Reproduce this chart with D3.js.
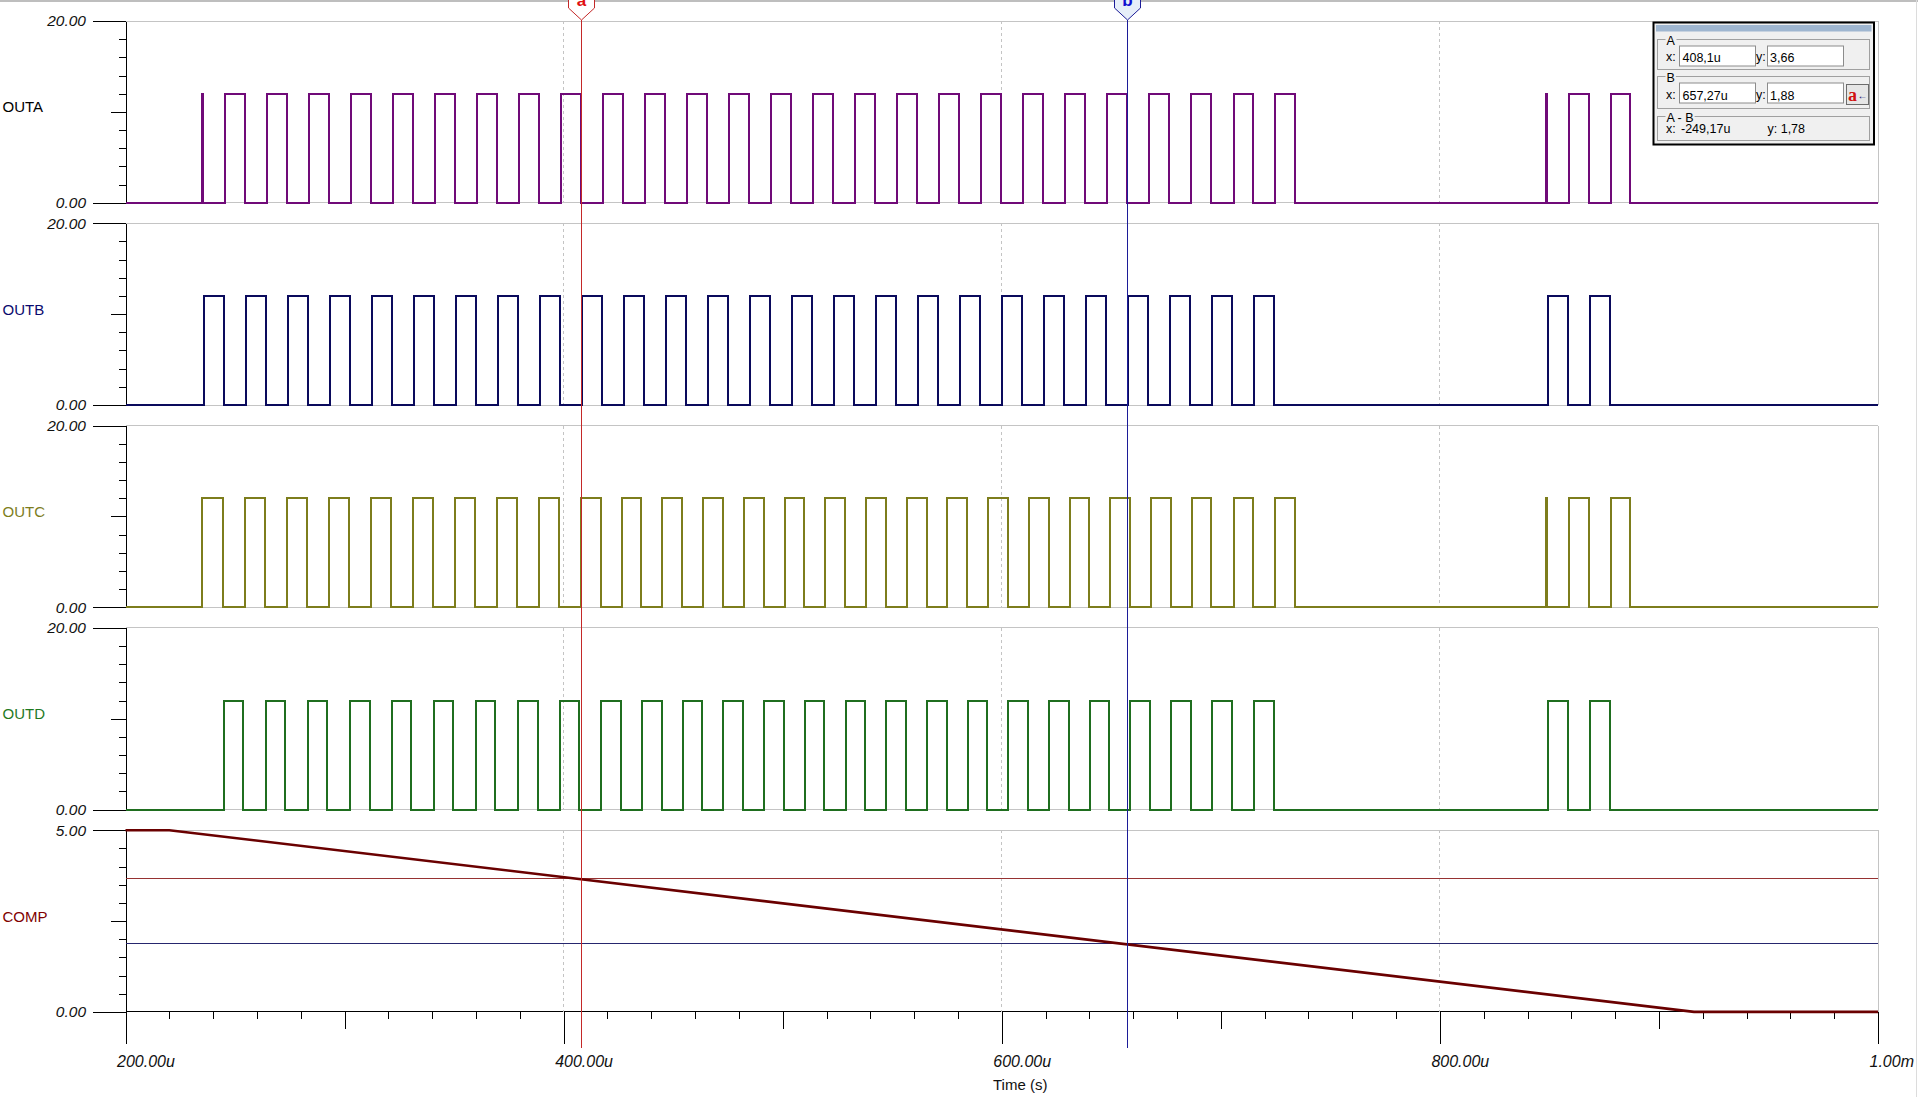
<!DOCTYPE html>
<html>
<head>
<meta charset="utf-8">
<script src="https://cdn.jsdelivr.net/npm/d3@7"></script>
<style>
  body { margin: 0; background: #fff; }
  svg { display: block; font-family: "Liberation Sans", Arial, sans-serif; }
  .tick text { font-style: italic; font-size: 15.5px; fill: #111; }
  .panel-label { font-size: 15px; }
  .box text { font-size: 12.5px; }
</style>
</head>
<body>
<svg width="1918" height="1097"></svg>
<script>
// pulse edges, [rise, fall] in microseconds
var outaPulses = [
  [235.0, 235.5],
  [245.6, 254.6], [264.7, 273.7], [283.9, 292.9], [303.1, 312.1], [322.3, 331.3],
  [341.4, 350.4], [360.6, 369.6], [379.8, 388.8], [399.0, 408.0], [418.1, 427.1],
  [437.3, 446.3], [456.5, 465.5], [475.7, 484.7], [494.8, 503.8], [514.0, 523.0],
  [533.2, 542.2], [552.4, 561.4], [571.5, 580.5], [590.7, 599.7], [609.9, 618.9],
  [629.1, 638.1], [648.2, 657.2], [667.4, 676.4], [686.6, 695.6], [705.8, 714.8],
  [724.9, 733.9],
  [848.6, 849.1], [859.0, 868.1], [878.2, 886.8]
];
var outbPulses = [
  [235.8, 244.8], [255.0, 264.0], [274.2, 283.2], [293.4, 302.4], [312.5, 321.5],
  [331.7, 340.7], [350.9, 359.9], [370.1, 379.1], [389.2, 398.2], [408.4, 417.4],
  [427.6, 436.6], [446.8, 455.8], [465.9, 474.9], [485.1, 494.1], [504.3, 513.3],
  [523.5, 532.5], [542.6, 551.6], [561.8, 570.8], [581.0, 590.0], [600.2, 609.2],
  [619.3, 628.3], [638.5, 647.5], [657.7, 666.7], [676.9, 685.9], [696.0, 705.0],
  [715.2, 724.2],
  [849.4, 858.6], [868.4, 877.7]
];
var outcPulses = [
  [235.0, 244.4], [254.6, 263.6], [273.7, 282.7], [292.9, 301.9], [312.1, 321.1],
  [331.3, 340.3], [350.4, 359.4], [369.6, 378.6], [388.8, 397.8], [408.0, 417.0],
  [426.5, 435.5], [445.1, 454.1], [463.7, 472.7], [482.3, 491.3], [500.9, 509.9],
  [519.5, 528.5], [538.1, 547.1], [556.7, 565.7], [575.2, 584.2], [593.8, 602.8],
  [612.4, 621.4], [631.0, 640.0], [649.5, 658.5], [668.1, 677.1], [686.7, 695.7],
  [705.8, 714.8], [724.9, 733.9],
  [848.5, 849.0], [859.0, 868.1], [878.2, 886.8]
];
var outdPulses = [
  [244.8, 253.8], [264.0, 273.0], [283.2, 292.2], [302.4, 311.4], [321.5, 330.5],
  [340.7, 349.7], [359.9, 368.9], [379.1, 388.1], [398.2, 407.2], [417.1, 426.1],
  [435.7, 444.7], [454.3, 463.3], [472.8, 481.8], [491.5, 500.5], [510.0, 519.0],
  [528.7, 537.7], [547.2, 556.2], [565.8, 574.8], [584.4, 593.4], [603.0, 612.0],
  [621.5, 630.5], [640.1, 649.1], [658.7, 667.7], [677.3, 686.3], [696.0, 705.0],
  [715.2, 724.2],
  [849.4, 858.6], [868.4, 877.7]
];
var pulseHigh = 12;

var compTime = [200, 220, 916, 1000];
var compVolt = [5.0, 5.0, 0.0, 0.0];

var panelNames = ["OUTA", "OUTB", "OUTC", "OUTD", "COMP"];
var panelMax = [20, 20, 20, 20, 5];
var traceColors = ["#700a78", "#0a0a5c", "#7d7d1c", "#1f6e1f", "#6a0000"];
var labelColors = ["#000000", "#0a0a6e", "#7d7d1c", "#1f7a1f", "#800000"];

var timeTicks = [200, 400, 600, 800, 1000];
var timeLabels = ["200.00u", "400.00u", "600.00u", "800.00u", "1.00m"];

var cursorNames = ["a", "b"];
var cursorTime = [408.1, 657.27];
var cursorLevel = [3.66, 1.88];
var cursorColors = ["#c42828", "#1c1c98"];
var levelColors = ["#963232", "#26266e"];

var readoutGroups = ["A", "B", "A - B"];
var readoutX = ["408,1u", "657,27u", "-249,17u"];
var readoutY = ["3,66", "1,88", "1,78"];

function pulsePoints(pulses) {
    var pts = [[200, 0]];
    pulses.forEach(function(p) {
        pts.push([p[0], 0], [p[0], pulseHigh], [p[1], pulseHigh], [p[1], 0]);
    });
    pts.push([1000, 0]);
    return pts;
}

function main() {
    var svg = d3.select("svg");
    var x = d3.scaleLinear().domain([200, 1000]).range([125.5, 1878]);
    var left = x.range()[0], right = x.range()[1];
    var top0 = 21, pitch = 202.3, ph = 181.7;
    var series = [outaPulses, outbPulses, outcPulses, outdPulses];

    // window frame
    svg.append("line").attr("x1", 0).attr("x2", 1918).attr("y1", 1).attr("y2", 1)
       .attr("stroke", "#a8a8a8").attr("stroke-width", 1.5);
    svg.append("line").attr("x1", 1916.5).attr("x2", 1916.5).attr("y1", 0).attr("y2", 1097)
       .attr("stroke", "#dcdcdc");

    panelNames.forEach(function(name, i) {
        var top = top0 + i * pitch, bottom = top + ph;
        var y = d3.scaleLinear().domain([0, panelMax[i]]).range([bottom, top]);
        var g = svg.append("g").attr("class", "panel");

        // grid
        g.append("line").attr("x1", left).attr("x2", right).attr("y1", top).attr("y2", top)
         .attr("stroke", "#c4c4c4").attr("shape-rendering", "crispEdges");
        g.append("line").attr("x1", left).attr("x2", right).attr("y1", bottom).attr("y2", bottom)
         .attr("stroke", i < 4 ? "#c4c4c4" : "#000").attr("shape-rendering", "crispEdges");
        g.append("line").attr("x1", right).attr("x2", right).attr("y1", top).attr("y2", bottom)
         .attr("stroke", "#c4c4c4").attr("shape-rendering", "crispEdges");
        g.selectAll(".vgrid").data([400, 600, 800]).enter().append("line")
         .attr("class", "vgrid")
         .attr("x1", function(d) { return x(d); }).attr("x2", function(d) { return x(d); })
         .attr("y1", top).attr("y2", bottom)
         .attr("stroke", "#c4c4c4").attr("stroke-dasharray", "3,3")
         .attr("shape-rendering", "crispEdges");

        // y axis: minor, mid and major ticks
        var step = panelMax[i] / 10;
        var all = d3.range(0, 11).map(function(k) { return k * step; });
        var minor = all.filter(function(d, k) { return k % 5 != 0; });
        g.append("g").attr("transform", "translate(" + left + ",0)")
         .call(d3.axisLeft(y).tickValues(minor).tickSize(7).tickFormat(""))
         .call(function(a) { a.select(".domain").remove(); });
        g.append("g").attr("transform", "translate(" + left + ",0)")
         .call(d3.axisLeft(y).tickValues([all[5]]).tickSize(15).tickFormat(""))
         .call(function(a) { a.select(".domain").remove(); });
        g.append("g").attr("transform", "translate(" + left + ",0)")
         .call(d3.axisLeft(y).tickValues([0, panelMax[i]]).tickSize(33).tickSizeOuter(0)
               .tickPadding(6.5).tickFormat(d3.format(".2f")));
        g.selectAll(".tick line, .domain").attr("shape-rendering", "crispEdges");

        g.append("text").attr("class", "panel-label")
         .attr("x", 2.5).attr("y", (top + bottom) / 2 + 0.5)
         .attr("fill", labelColors[i])
         .text(name);

        if (i < 4) {
            var line = d3.line().x(function(d) { return x(d[0]); }).y(function(d) { return y(d[1]); });
            g.append("path").datum(pulsePoints(series[i]))
             .attr("d", line).attr("fill", "none")
             .attr("stroke", traceColors[i]).attr("stroke-width", 2)
             .attr("shape-rendering", "crispEdges");
        } else {
            var minorX = d3.range(200, 1001, 20).filter(function(d) { return d % 100 != 0; });
            var midX = [300, 500, 700, 900];
            var ax = g.append("g").attr("transform", "translate(0," + bottom + ")");
            ax.append("g").call(d3.axisBottom(x).tickValues(minorX).tickSize(7).tickFormat(""))
              .call(function(a) { a.select(".domain").remove(); });
            ax.append("g").call(d3.axisBottom(x).tickValues(midX).tickSize(17).tickFormat(""))
              .call(function(a) { a.select(".domain").remove(); });
            ax.append("g").call(d3.axisBottom(x).tickValues(timeTicks).tickSize(32).tickSizeOuter(0)
                     .tickPadding(12).tickFormat(function(d, k) { return timeLabels[k]; }))
              .call(function(a) {
                  a.select(".domain").remove();
                  a.selectAll("text").attr("text-anchor", "start").attr("x", -9).style("font-size", "16px");
              });
            ax.selectAll(".tick line").attr("shape-rendering", "crispEdges");

            svg.append("text").attr("x", 993).attr("y", 1089.5)
               .attr("font-size", 15).attr("fill", "#111").text("Time (s)");

            // cursor levels
            g.selectAll(".level").data(cursorLevel).enter().append("line")
             .attr("class", "level")
             .attr("x1", left).attr("x2", right)
             .attr("y1", function(d) { return y(d); }).attr("y2", function(d) { return y(d); })
             .attr("stroke", function(d, k) { return levelColors[k]; })
             .attr("shape-rendering", "crispEdges");

            var cline = d3.line().x(function(d) { return x(d); }).y(function(d, k) { return y(compVolt[k]); });
            g.append("path").datum(compTime)
             .attr("d", cline).attr("fill", "none")
             .attr("stroke", traceColors[i]).attr("stroke-width", 2.6);
        }
    });

    // vertical cursors with markers
    cursorTime.forEach(function(t, k) {
        var cx = Math.round(x(t)) + 0.5;
        svg.append("line").attr("x1", cx).attr("x2", cx).attr("y1", 20).attr("y2", 1048)
           .attr("stroke", cursorColors[k]).attr("stroke-width", 1);
        svg.append("path")
           .attr("d", "M" + (cx - 13) + ",-10 L" + (cx - 13) + ",8 L" + cx + ",20 L" + (cx + 13) + ",8 L" + (cx + 13) + ",-10")
           .attr("fill", k == 0 ? "#fff" : "#e6eef9").attr("stroke", cursorColors[k]);
        svg.append("text").attr("x", cx).attr("y", 6).attr("text-anchor", "middle")
           .attr("font-size", 17).attr("font-weight", "bold")
           .attr("fill", k == 0 ? "#e01010" : "#1010d0").text(cursorNames[k]);
    });

    // cursor readout window
    var box = svg.append("g").attr("class", "box");
    box.append("rect").attr("x", 1653.5).attr("y", 22.5).attr("width", 220.5).attr("height", 122)
       .attr("fill", "#f0f0f0").attr("stroke", "#000").attr("stroke-width", 2);
    box.append("rect").attr("x", 1656).attr("y", 25).attr("width", 215.5).attr("height", 6.5)
       .attr("fill", "#9fb6d0");

    var groupTop = [39.5, 76.5, 116.5], groupH = [30, 32, 24];
    var rowBase = [60.5, 98.5, 133];
    readoutGroups.forEach(function(name, k) {
        box.append("rect").attr("x", 1657.5).attr("y", groupTop[k]).attr("width", 212).attr("height", groupH[k])
           .attr("fill", "none").attr("stroke", "#a0a0a0");
        var lbl = box.append("text").attr("x", 1666.5).attr("y", groupTop[k] + 5).text(name);
        var bb = lbl.node().getBBox();
        box.insert("rect", function() { return lbl.node(); })
           .attr("x", bb.x - 1).attr("y", groupTop[k] - 1).attr("width", bb.width + 2).attr("height", 3)
           .attr("fill", "#f0f0f0");
        box.append("text").attr("x", 1666).attr("y", rowBase[k]).text("x:");
        if (k < 2) {
            var by = groupTop[k] + 6.5;
            box.append("rect").attr("x", 1679.5).attr("y", by).attr("width", 76).attr("height", 20)
               .attr("fill", "#fff").attr("stroke", "#8c8c8c");
            box.append("rect").attr("x", 1767.5).attr("y", by).attr("width", 76).attr("height", 20)
               .attr("fill", "#fff").attr("stroke", "#8c8c8c");
            box.append("text").attr("x", 1756).attr("y", rowBase[k]).text("y:");
            box.append("text").attr("x", 1682.5).attr("y", rowBase[k] + 1).text(readoutX[k]);
            box.append("text").attr("x", 1770).attr("y", rowBase[k] + 1).text(readoutY[k]);
        } else {
            box.append("text").attr("x", 1681).attr("y", rowBase[k]).text(readoutX[k]);
            box.append("text").attr("x", 1767.5).attr("y", rowBase[k]).text("y: " + readoutY[k]);
        }
    });
    box.append("rect").attr("x", 1846.5).attr("y", 84.5).attr("width", 22).attr("height", 20)
       .attr("fill", "#e6e6e6").attr("stroke", "#6c6c6c");
    box.append("text").attr("x", 1848).attr("y", 101).attr("font-family", "Liberation Serif, serif")
       .attr("font-weight", "bold").style("font-size", "18px").style("fill", "#d01010").text("a");
    box.append("text").attr("x", 1857.5).attr("y", 98.5).style("font-size", "10px")
       .style("fill", "#0a0a70").text("\u2190");
}

main();
</script>
</body>
</html>
